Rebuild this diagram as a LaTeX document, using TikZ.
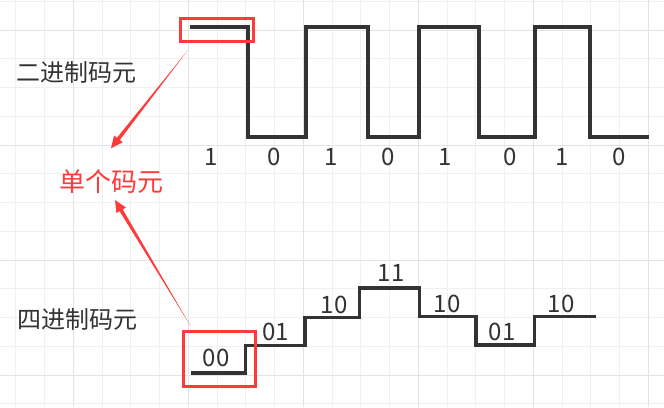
\documentclass[tikz,border=0pt]{standalone}
\usepackage{fontspec}
\setmainfont{Noto Sans CJK SC}
\usetikzlibrary{calc}
\definecolor{wave}{HTML}{333333}
\definecolor{hl}{HTML}{FF3A3A}
\definecolor{gridminor}{HTML}{F0F0F0}
\definecolor{gridmajor}{HTML}{E3E3E3}
\newcommand\taperarrow[2]{%
  \coordinate (ta-h) at ($(#2)!12pt!(#1)$);
  \fill[hl] (#1) -- ($(ta-h)!1.8pt!90:(#2)$) -- ($(ta-h)!5.5pt!90:(#2)$) -- (#2)
    -- ($(ta-h)!5.5pt!-90:(#2)$) -- ($(ta-h)!1.8pt!-90:(#2)$) -- cycle;}
\begin{document}
\begin{tikzpicture}[x=1pt,y=-1pt,
  wavestyle/.style={draw=wave,line width=3.4pt,line join=miter,line cap=butt},
  boxstyle/.style={draw=hl,line width=3pt},
  digit/.style={font=\fontsize{24}{28}\selectfont,text=wave,inner sep=0pt,anchor=base},
  title/.style={font=\fontsize{24}{28}\selectfont,text=wave,inner sep=0pt,anchor=west},
  redtitle/.style={font=\fontsize{26}{30}\selectfont,text=hl,inner sep=0pt,anchor=west}]
\useasboundingbox (0,0) rectangle (664,407);
\fill[white] (0,0) rectangle (664,407);
% grid
\foreach \i in {0,...,22} {
  \pgfmathsetmacro\gx{15.8+28.75*\i}
  \draw[gridminor,line width=1pt] (\gx,0) -- (\gx,407);
}
\foreach \i in {0,...,14} {
  \pgfmathsetmacro\gy{1.25+28.75*\i}
  \draw[gridminor,line width=1pt] (0,\gy) -- (664,\gy);
}
\foreach \gx in {73.3,188.3,303.3,418.3,533.3,648.3}
  \draw[gridmajor,line width=1pt] (\gx,0) -- (\gx,407);
\foreach \gy in {30,145,260,375}
  \draw[gridmajor,line width=1pt] (0,\gy) -- (664,\gy);

% binary square wave
\draw[wavestyle] (190,27) -- (248,27) -- (248,137) -- (306,137) -- (306,27) -- (368,27)
  -- (368,137) -- (419,137) -- (419,27) -- (479,27) -- (479,137) -- (535,137)
  -- (535,27) -- (590,27) -- (590,137) -- (649,137);
\node[digit] (b1) at (211,165) {1};
\node[digit] (b2) at (274,165) {0};
\node[digit] (b3) at (331,165) {1};
\node[digit] (b4) at (388,165) {0};
\node[digit] (b5) at (445,165) {1};
\node[digit] (b6) at (510,165) {0};
\node[digit] (b7) at (562,165) {1};
\node[digit] (b8) at (619,165) {0};

% quaternary staircase
\draw[wavestyle] (191,373) -- (245.7,373) -- (245.7,345.5) -- (305,345.5) -- (305,317.5)
  -- (359.3,317.5) -- (359.3,288) -- (419.3,288) -- (419.3,316.5) -- (476,316.5)
  -- (476,345) -- (534.3,345) -- (534.3,316.5) -- (596.3,316.5);
\node[digit] (q1) at (216,366.5) {00};
\node[digit] (q2) at (275.5,340.7) {01};
\node[digit] (q3) at (334,313.3) {10};
\node[digit] (q4) at (391,281.3) {11};
\node[digit] (q5) at (447,312.3) {10};
\node[digit] (q6) at (502,340.7) {01};
\node[digit] (q7) at (561,312.3) {10};

% labels
\node[title] (bin) at (16,72) {二进制码元};
\node[redtitle] (single) at (59,181.5) {单个码元};
\node[title] (quat) at (17,319.5) {四进制码元};

% highlight boxes
\node[boxstyle,minimum width=73.5pt,minimum height=23.4pt,inner sep=0pt] (topbox) at (216.75,30) {};
\node[boxstyle,minimum width=72.4pt,minimum height=55pt,inner sep=0pt] (botbox) at (219.5,358.5) {};

% arrows
\coordinate (ta-s) at (188,50);
\coordinate (ta-e) at (111,148.3);
\coordinate (tb-s) at (191,326.7);
\coordinate (tb-e) at (115,200);
\taperarrow{ta-s}{ta-e}
\taperarrow{tb-s}{tb-e}
\end{tikzpicture}
\end{document}
